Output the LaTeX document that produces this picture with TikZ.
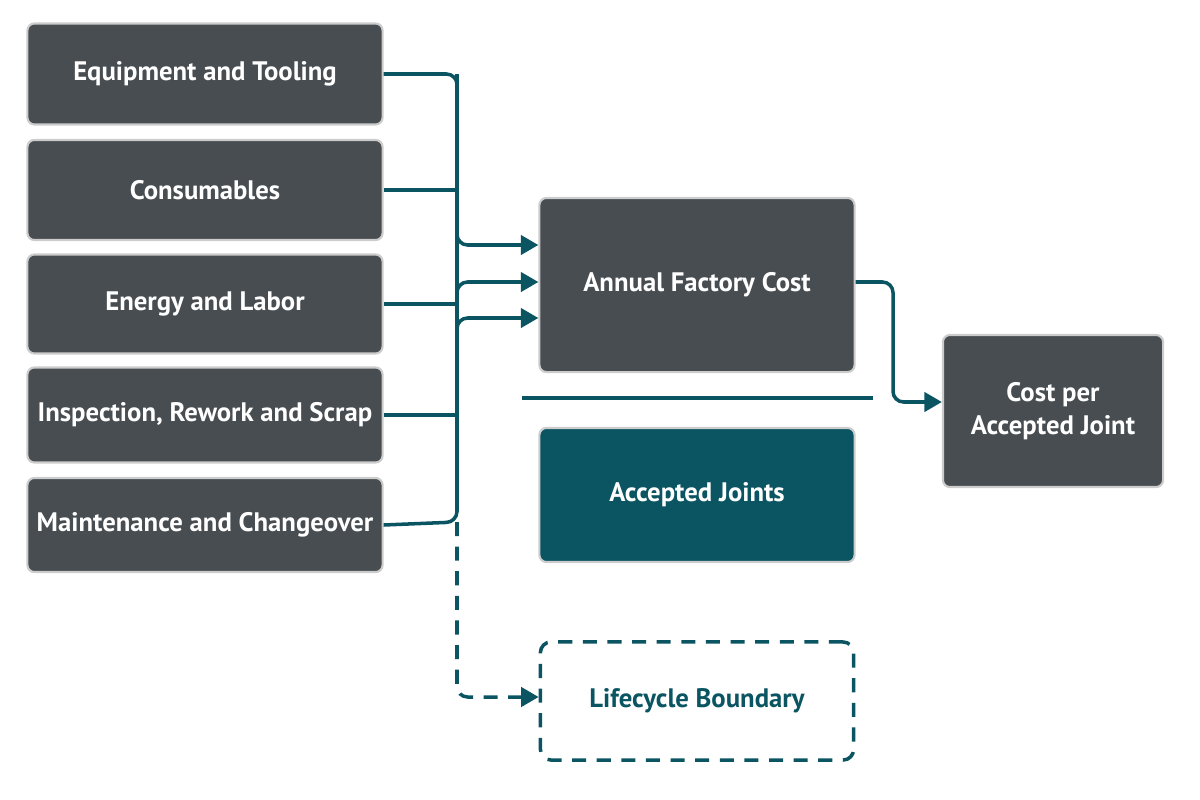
\documentclass[tikz,border=0pt]{standalone}
\usepackage{fontspec}
\setmainfont{PT Sans}
\usetikzlibrary{arrows.meta,positioning}
\definecolor{boxgray}{HTML}{474D51}
\definecolor{teal}{HTML}{0B5563}
\begin{document}
\begin{tikzpicture}[x=0.01cm,y=0.01cm, >={Triangle[length=5pt,width=5.5pt]},
  cost/.style={draw=gray!40,line width=0.6pt,rounded corners=2pt,fill=boxgray,text=white,font=\bfseries\fontsize{7.6}{9.5}\selectfont,align=center,inner sep=0pt},
  link/.style={draw=teal,line width=1pt,rounded corners=3pt}]
\useasboundingbox (0,0) rectangle (1200,-800);
% input costs
\node[cost,minimum width=3.55cm,minimum height=1.01cm] (equip) at (205,-74) {Equipment and Tooling};
\node[cost,minimum width=3.55cm,minimum height=1.00cm] (cons) at (205,-190) {Consumables};
\node[cost,minimum width=3.55cm,minimum height=0.99cm] (energy) at (205,-304) {Energy and Labor};
\node[cost,minimum width=3.55cm,minimum height=0.95cm] (insp) at (205,-415) {Inspection, Rework and Scrap};
\node[cost,minimum width=3.55cm,minimum height=0.94cm] (maint) at (205,-525) {Maintenance and Changeover};
% results
\node[cost,minimum width=3.15cm,minimum height=1.74cm] (annual) at (697,-285) {Annual Factory Cost};
\node[cost,fill=teal,minimum width=3.15cm,minimum height=1.34cm] (joints) at (697,-495) {Accepted Joints};
\node[cost,minimum width=2.2cm,minimum height=1.52cm] (perjoint) at (1053,-411) {Cost per\\Accepted Joint};
\node[draw=teal,line width=1pt,dash pattern=on 4pt off 3pt,rounded corners=3pt,minimum width=3.13cm,minimum height=1.18cm,text=teal,font=\bfseries\fontsize{7.6}{9.5}\selectfont] (life) at (697,-701) {Lifecycle Boundary};
% bus
\coordinate (bustop) at (457,-74);
\coordinate (busbot) at (457,-522);
\coordinate (sep) at (522,-398);
\coordinate (sepend) at (873,-398);
\draw[link] (equip.east) -- (bustop) -- (busbot) -- (maint.east);
\foreach \n in {cons,energy,insp} \draw[link] (\n.east) -- (\n.east -| bustop);
\draw[link,->] (bustop) -- (457,-245) -- (annual.west |- 0,-245);
\draw[link,->] (457,-300) -- (457,-282) -- (annual.west |- 0,-282);
\draw[link,->] (457,-330) -- (457,-318) -- (annual.west |- 0,-318);
\draw[link,->,dash pattern=on 4pt off 3pt] (busbot) -- (457,-697) -- (life.west |- 0,-697);
\draw[link,->] (annual.east |- 0,-282) -- (893,-282) -- (893,-402) -- (perjoint.west |- 0,-402);
\draw[link,rounded corners=0pt] (sep) -- (sepend);
\end{tikzpicture}
\end{document}
